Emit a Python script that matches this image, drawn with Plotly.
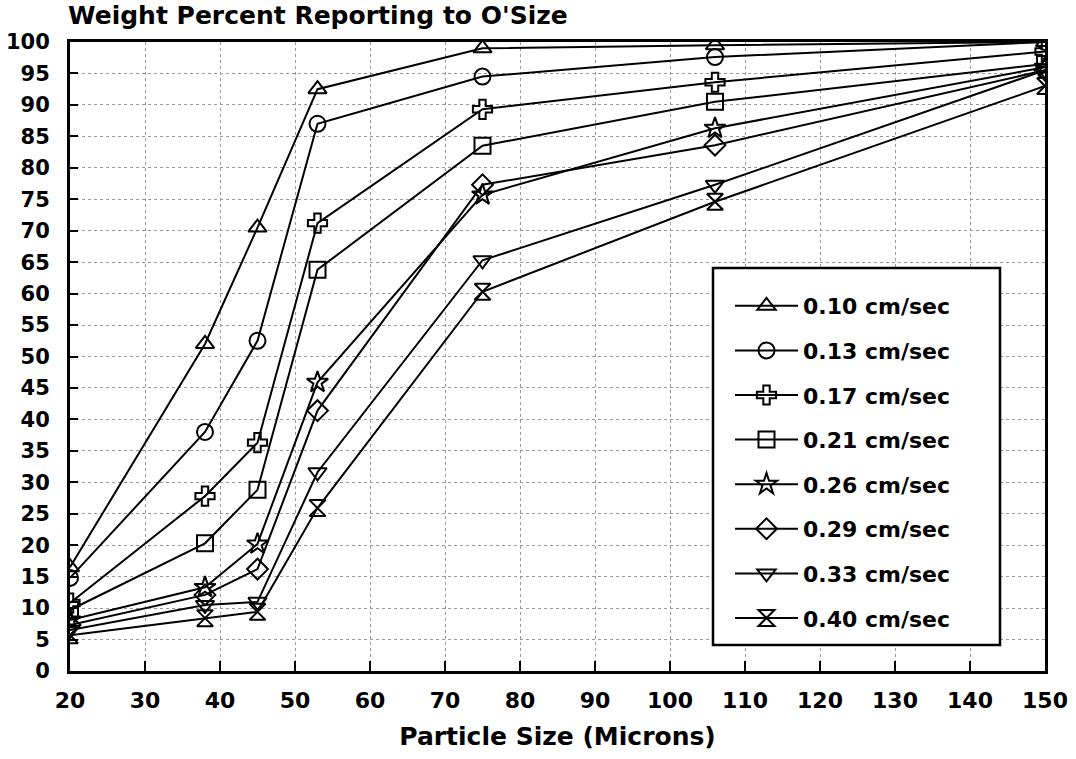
import plotly.graph_objects as go

particle_size = [20, 38, 45, 53, 75, 106, 150]

labels = ["0.10 cm/sec", "0.13 cm/sec", "0.17 cm/sec", "0.21 cm/sec",
          "0.26 cm/sec", "0.29 cm/sec", "0.33 cm/sec", "0.40 cm/sec"]

v010 = [16.5, 52.0, 70.5, 92.5, 99.0, 99.5, 100.0]
v013 = [14.8, 38.0, 52.5, 87.0, 94.5, 97.6, 100.0]
v017 = [10.8, 27.8, 36.3, 71.2, 89.3, 93.6, 98.5]
v021 = [9.7, 20.3, 28.8, 63.8, 83.5, 90.5, 96.5]
v026 = [8.1, 13.3, 20.2, 45.9, 75.7, 86.3, 96.0]
v029 = [7.3, 12.1, 16.2, 41.4, 77.3, 83.6, 95.5]
v033 = [6.5, 10.5, 11.0, 31.6, 65.3, 77.3, 95.5]
v040 = [5.7, 8.4, 9.4, 25.9, 60.3, 74.6, 93.0]

series = [v010, v013, v017, v021, v026, v029, v033, v040]
symbols = ["triangle-up-open", "circle-open", "cross-open", "square-open",
           "star-open", "diamond-open", "triangle-down-open", "hourglass-open"]

x_ticks = [20, 30, 40, 50, 60, 70, 80, 90, 100, 110, 120, 130, 140, 150]
y_ticks = list(range(0, 101, 5))

FONT = "DejaVu Sans"

fig = go.Figure()
for i, (lab, vals, sym) in enumerate(zip(labels, series, symbols)):
    fig.add_trace(go.Scatter(
        x=particle_size, y=vals, name=lab, mode="lines+markers",
        legendgroup=f"g{i}",
        line=dict(color="black", width=2),
        marker=dict(symbol=sym, size=16, color="black",
                    line=dict(color="black", width=2)),
    ))

# legend frame (paper coordinates of the plot area)
fig.add_shape(type="rect", xref="paper", yref="paper",
              x0=(713 - 70) / 975, x1=(1000 - 70) / 975,
              y0=(671 - 645) / 629, y1=(671 - 268) / 629,
              line=dict(color="black", width=2.5), fillcolor="white",
              layer="above")

fig.update_layout(
    width=1076, height=759,
    margin=dict(l=70, r=31, t=42, b=88),
    paper_bgcolor="white", plot_bgcolor="white",
    font=dict(family=FONT, color="black", size=22, weight="bold"),
    title=dict(text="Weight Percent Reporting to O'Size",
               x=68/1076, xref="container", xanchor="left",
               y=1-6/759, yref="container", yanchor="top",
               font=dict(family=FONT, size=25, weight="bold", color="black")),
    showlegend=True,
    legend=dict(x=(730 - 70) / 975, y=(671 - 285) / 629,
                xanchor="left", yanchor="top",
                borderwidth=0, bgcolor="rgba(0,0,0,0)",
                font=dict(family=FONT, size=22, weight="bold", color="black"),
                tracegroupgap=13, itemwidth=63),
)

fig.update_xaxes(
    range=[20, 150], tickmode="array", tickvals=x_ticks,
    ticktext=[str(t) for t in x_ticks], automargin=False,
    ticks="inside", ticklen=10, tickwidth=2, tickcolor="black",
    showline=True, linecolor="black", linewidth=3, mirror=True,
    showgrid=True, gridcolor="#999999", griddash="dot", gridwidth=1,
    zeroline=False, ticklabelstandoff=8,
    tickfont=dict(family=FONT, size=22, weight="bold"),
    title=dict(text="Particle Size (Microns)", standoff=16,
               font=dict(family=FONT, size=25, weight="bold")),
)
fig.update_yaxes(
    range=[0, 100], tickmode="array", tickvals=y_ticks,
    ticktext=[str(t) for t in y_ticks], automargin=False,
    ticks="inside", ticklen=8, tickwidth=2, tickcolor="black",
    showline=True, linecolor="black", linewidth=3, mirror=True,
    showgrid=True, gridcolor="#999999", griddash="dot", gridwidth=1,
    zeroline=False, ticklabelstandoff=13,
    tickfont=dict(family=FONT, size=21, weight="bold"),
)

fig.write_html("out.html",
               config={"displayModeBar": False},
               post_script="document.body.style.margin='0';"
                           "document.body.style.overflow='hidden';")
